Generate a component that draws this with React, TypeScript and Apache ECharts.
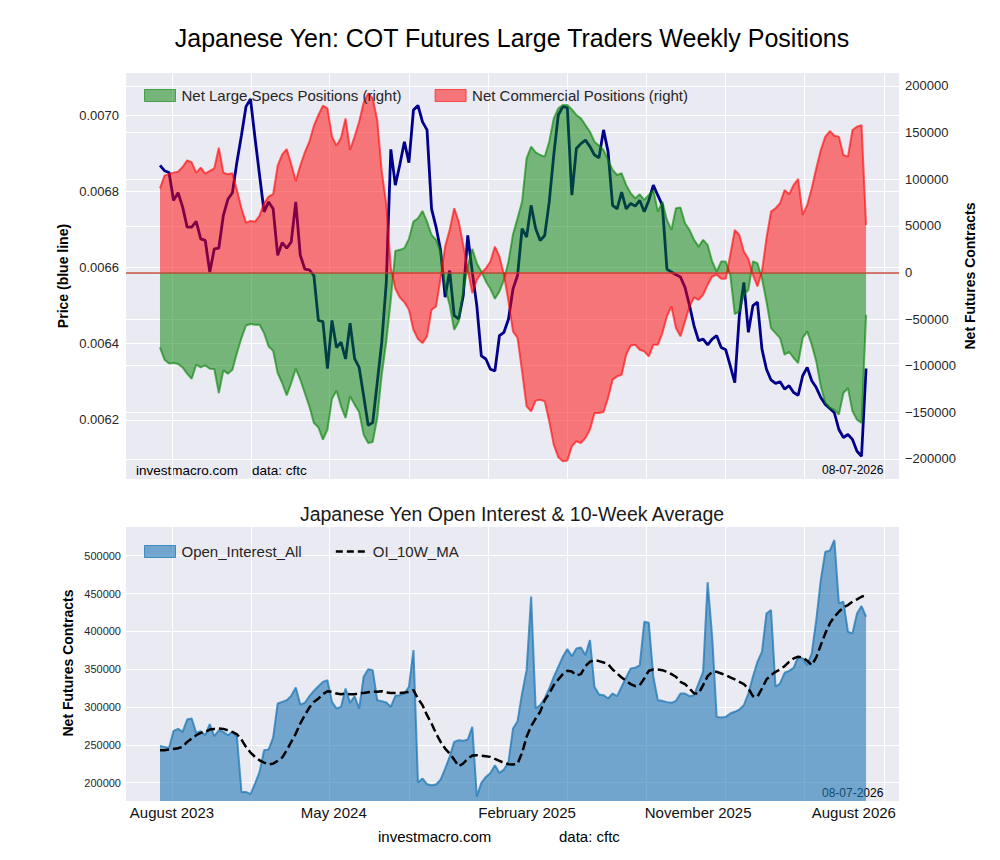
import React, { useEffect, useRef } from "react";
import * as echarts from "echarts";

const FONT = "'Liberation Sans', Arial, Helvetica, sans-serif";

// Weekly observations (index 0 = first week, Jul 2023; last = 08-07-2026)
const priceLine = [
  0.006868, 0.006854, 0.006849, 0.006776, 0.006796, 0.006759, 0.006706, 0.006706, 0.006721, 0.006675,
  0.006671, 0.006588, 0.006649, 0.006651, 0.006737, 0.006779, 0.006796, 0.006877, 0.006947, 0.007022,
  0.007042, 0.006939, 0.006842, 0.006746, 0.006772, 0.006754, 0.006632, 0.006665, 0.006651, 0.006667,
  0.006772, 0.006632, 0.006596, 0.006594, 0.006579, 0.006461, 0.006458, 0.006335, 0.006461, 0.00639,
  0.006404, 0.00636, 0.006454, 0.006361, 0.006338, 0.006263, 0.006186, 0.006193, 0.006298, 0.006404,
  0.006561, 0.00691, 0.006816, 0.00687, 0.00693, 0.006875, 0.007013, 0.007025, 0.006982, 0.006961,
  0.006754, 0.006706, 0.006645, 0.006522, 0.006592, 0.006474, 0.006465, 0.006526, 0.006684, 0.006588,
  0.0065, 0.006368, 0.00636, 0.006333, 0.006329, 0.006421, 0.00643, 0.006465, 0.006544, 0.006579,
  0.006702, 0.00668, 0.006763, 0.006702, 0.006671, 0.006684, 0.006772, 0.006895, 0.007, 0.007022,
  0.007019, 0.00679, 0.006912, 0.006925, 0.006934, 0.006917, 0.006895, 0.006888, 0.006961, 0.006904,
  0.006763, 0.006754, 0.006798, 0.006754, 0.006768, 0.006761, 0.006776, 0.006746, 0.006776, 0.006816,
  0.006789, 0.006763, 0.006596, 0.006588, 0.006581, 0.006575, 0.006548, 0.0065, 0.006447, 0.006408,
  0.006412, 0.006397, 0.006412, 0.006421, 0.00639, 0.006384, 0.006342, 0.006298, 0.006474, 0.006561,
  0.00643, 0.0065, 0.006509, 0.006386, 0.006333, 0.006305, 0.006296, 0.0063, 0.006281, 0.00629,
  0.006272, 0.006265, 0.006316, 0.006338, 0.006303, 0.006285, 0.006259, 0.006241, 0.00623, 0.006219,
  0.006175, 0.006154, 0.006162, 0.006149, 0.006118, 0.006105, 0.006335,
];

const netLargeSpecs = [
  -80300, -93500, -97500, -97100, -98200, -101700, -108500, -113900, -98900, -101700,
  -99600, -103200, -103500, -129200, -105000, -108500, -104200, -86400, -70300, -56800,
  -55300, -56000, -56000, -65000, -79300, -83900, -107800, -118500, -131700, -118500,
  -103200, -115000, -129200, -143500, -161400, -166000, -179200, -168500, -135300, -126700,
  -143500, -156000, -132800, -141700, -149600, -173900, -182800, -181700, -156000, -109600,
  -73900, -29000, 23200, 24300, 26100, 36100, 54600, 58200, 66000, 54600,
  40300, 35000, 22500, -16800, -34600, -61400, -52500, -20300, 6400, 25300,
  10000, 1100, -9600, -17500, -28200, -20300, -7900, 11800, 41100, 58200,
  76000, 122400, 134900, 128900, 126000, 124200, 140300, 165300, 176000, 179600,
  179600, 174900, 168900, 165300, 158100, 151000, 140300, 136000, 131400, 120700,
  110000, 104600, 106400, 93900, 85000, 79600, 83900, 77800, 83200, 88500,
  65300, 76000, 56400, 45700, 68900, 69600, 52800, 45700, 35000, 27800,
  35000, 29600, 11800, 1100, 11800, 11800, -2500, -44600, -41800, -23900,
  -18600, 11800, 10000, -6100, -31100, -59600, -65000, -70300, -88200, -85000,
  -91700, -97100, -70300, -63200, -77500, -95300, -122100, -139900, -145300, -147100,
  -152400, -129200, -123900, -148900, -157800, -161400, -45300,
];

const netCommercial = [
  90300, 103900, 105700, 107100, 108200, 113200, 120300, 118200, 107100, 112500,
  106000, 108900, 111700, 133900, 107100, 105300, 106400, 88500, 68900, 53500,
  55300, 54600, 61000, 74300, 81400, 83900, 114600, 126700, 132400, 116000,
  98200, 114600, 128900, 140300, 157400, 168900, 178900, 176000, 145700, 136000,
  144600, 165300, 131400, 145700, 161700, 182400, 192100, 186700, 163500, 108200,
  73000, 5000, -17500, -26800, -31800, -40000, -61400, -71400, -75700, -68500,
  -40000, -36400, -6100, 27800, 45700, 68900, 54600, 29600, 2900, -22100,
  -7900, -700, 4600, 11800, 27800, 17100, -2500, -31100, -63200, -70300,
  -106000, -143500, -148900, -137400, -136400, -138200, -159600, -184600, -198100, -202400,
  -201700, -186400, -181000, -182800, -177400, -168500, -150700, -150700, -149600, -134600,
  -114900, -111400, -109600, -88200, -78200, -77500, -82800, -84600, -90000, -77500,
  -77500, -65000, -47100, -36400, -59600, -68500, -52500, -36400, -26800, -29300,
  -23900, -13200, -4300, -2500, -6800, -6800, 18900, 45700, 40300, 22500,
  14600, -2500, -15000, 1100, 36800, 65300, 68900, 74300, 88500, 83900,
  93900, 100300, 61800, 72500, 90300, 111700, 131400, 145700, 151700, 146700,
  145700, 126000, 124200, 152800, 156400, 158100, 51000,
];

const openInterest = [
  248500, 247200, 245900, 268400, 271000, 267000, 283300, 284700, 265700, 267900,
  262600, 277200, 261300, 269200, 267000, 262600, 267000, 260400, 187700, 187700,
  184600, 198700, 214100, 242800, 243700, 259500, 304500, 306700, 308900, 314700,
  325700, 303200, 305400, 314200, 321300, 327400, 333200, 335400, 306700, 297900,
  300100, 324400, 305400, 314200, 297900, 339800, 349900, 348600, 308900, 307700,
  305900, 300200, 314700, 315600, 317800, 326700, 375200, 200000, 205300, 197800,
  196500, 197400, 204000, 218500, 234000, 253800, 256000, 255200, 256900, 273700,
  181500, 199600, 207500, 212800, 222900, 212800, 217200, 227400, 271500, 281200,
  317800, 348700, 446000, 298000, 302400, 311200, 324400, 339900, 353100, 366400,
  376500, 367200, 377400, 378700, 368600, 388400, 326700, 316500, 315600, 311200,
  317800, 314300, 326700, 339000, 350900, 351800, 355300, 412700, 411400, 339900,
  309000, 308100, 306400, 305500, 308100, 317800, 317800, 314300, 315600, 331100,
  346500, 465000, 392800, 286900, 286000, 286900, 291300, 293600, 296600, 302400,
  317800, 339900, 359700, 373000, 423700, 428200, 326700, 331100, 345200, 347800,
  351800, 366400, 364200, 355300, 370800, 414900, 467900, 505400, 506700, 520800,
  437000, 439200, 399500, 397300, 423700, 433400, 419300,
];

const oi10wMA = [
  242800, 242800, 243700, 244500, 245400, 247200, 253800, 258200, 262600, 265700,
  267000, 270100, 271000, 271400, 271000, 269200, 267000, 263900, 256900, 247200,
  239700, 234000, 229500, 226500, 223800, 225100, 228700, 233100, 242800, 253800,
  264800, 278100, 289100, 299200, 306700, 311100, 316900, 320800, 320000, 317700,
  316900, 317700, 316900, 316900, 317700, 318600, 319500, 320400, 320000, 320900,
  319100, 318600, 318600, 318600, 319100, 320000, 322200, 311200, 302400, 289100,
  278100, 264900, 253800, 245000, 238400, 230400, 221600, 225200, 231800, 235700,
  236200, 235700, 234900, 234000, 231300, 228700, 226000, 224300, 223800, 225200,
  239300, 260500, 274600, 284700, 293600, 309000, 317800, 328900, 336400, 343400,
  347800, 346900, 341700, 343400, 354000, 359800, 362000, 360600, 358900, 356700,
  349600, 344300, 338900, 334600, 330200, 327500, 328900, 337700, 347800, 349600,
  349600, 348700, 346500, 343400, 339900, 333300, 330200, 324400, 317800, 317800,
  328900, 340800, 346500, 346500, 344300, 342100, 339000, 336400, 333300, 330200,
  324400, 314300, 313400, 324400, 336400, 342100, 346500, 349600, 354000, 359700,
  364200, 366400, 365600, 361100, 355300, 365600, 381800, 397300, 410500, 419300,
  425900, 431700, 434800, 439200, 442300, 445800, 448000,
];

// x axis (week index) gridlines and labels
const xGridWeeks = [2.7, 20.1, 37.4, 55.0, 72.5, 89.9, 107.4, 125.0, 142.3, 160.0];
const xLabelWeeks = [2.65, 38.4, 81.1, 118.9, 153.3];
const xLabelTexts = ["August 2023", "May 2024", "February 2025", "November 2025", "August 2026"];
const priceTicks = [0.0062, 0.0064, 0.0066, 0.0068, 0.007];
const netTicks = [-200000, -150000, -100000, -50000, 0, 50000, 100000, 150000, 200000];
const oiTicks = [200000, 250000, 300000, 350000, 400000, 450000, 500000];
const legendTop = ["Net Large Specs Positions (right)", "Net Commercial Positions (right)"];
const legendBottom = ["Open_Interest_All", "OI_10W_MA"];

const X_MIN = -7.51;
const X_MAX = 163.28;

export default function App() {
  const ref = useRef<HTMLDivElement>(null);

  useEffect(() => {
    if (!ref.current) return;
    const chart = echarts.init(ref.current, null, { renderer: "svg" });
    const pts = (arr: number[]) => arr.map((v, i) => [i, v]);
    const tickColor = "#262626";
    const white = { show: true, lineStyle: { color: "#ffffff", width: 1 } };
    const minusFmt = (v: number) => (v < 0 ? "\u2212" + Math.abs(v) : String(v));

    const xBase = (gridIndex: number, showLabels: boolean) => ({
      type: "value",
      gridIndex,
      min: X_MIN,
      max: X_MAX,
      axisLine: { show: false },
      axisTick: { show: false, customValues: xGridWeeks },
      splitLine: white,
      axisLabel: showLabels
        ? {
            show: true,
            customValues: xLabelWeeks,
            margin: 4,
            fontSize: 15,
            color: "#111",
            fontFamily: FONT,
            formatter: (v: number) => {
              let best = 0;
              xLabelWeeks.forEach((w, k) => {
                if (Math.abs(w - v) < Math.abs(xLabelWeeks[best] - v)) best = k;
              });
              return xLabelTexts[best];
            },
          }
        : { show: false },
    });

    const text = (
      x: number,
      y: number,
      s: string,
      size: number,
      opts: any = {}
    ) => ({
      type: "text",
      x,
      y,
      rotation: opts.rotation || 0,
      silent: true,
      style: {
        text: s,
        fontSize: size,
        fontFamily: FONT,
        fontWeight: opts.bold ? "bold" : "normal",
        fill: opts.fill || "#111",
        align: opts.align || "left",
        verticalAlign: "middle",
      },
    });

    const option: any = {
      animation: false,
      backgroundColor: "#ffffff",
      grid: [
        { left: 126, top: 73, width: 773, height: 406, show: true, backgroundColor: "#EAEAF2", borderWidth: 0, containLabel: false, outerBoundsMode: "none" },
        { left: 126, top: 527, width: 773, height: 274, show: true, backgroundColor: "#EAEAF2", borderWidth: 0, containLabel: false, outerBoundsMode: "none" },
      ],
      xAxis: [xBase(0, false), xBase(1, true)],
      yAxis: [
        {
          type: "value",
          gridIndex: 0,
          position: "left",
          min: 0.0060452,
          max: 0.0071102,
          axisLine: { show: false },
          axisTick: { show: false, customValues: priceTicks },
          splitLine: white,
          axisLabel: {
            customValues: priceTicks,
            formatter: (v: number) => v.toFixed(4),
            fontSize: 13,
            color: tickColor,
            fontFamily: FONT,
            margin: 7,
          },
        },
        {
          type: "value",
          gridIndex: 0,
          position: "right",
          min: -221450,
          max: 213940,
          axisLine: { show: false },
          axisTick: { show: false, customValues: netTicks },
          splitLine: white,
          axisLabel: {
            customValues: netTicks,
            formatter: minusFmt,
            fontSize: 13,
            color: tickColor,
            fontFamily: FONT,
            margin: 6,
          },
        },
        {
          type: "value",
          gridIndex: 1,
          position: "left",
          min: 175640,
          max: 538000,
          axisLine: { show: false },
          axisTick: { show: false, customValues: oiTicks },
          splitLine: white,
          axisLabel: {
            customValues: oiTicks,
            formatter: (v: number) => String(v),
            fontSize: 11,
            color: tickColor,
            fontFamily: FONT,
            margin: 5,
          },
        },
      ],
      legend: [
        {
          left: 139,
          top: 83,
          orient: "horizontal",
          itemWidth: 31,
          itemHeight: 12,
          itemGap: 33,
          selectedMode: false,
          textStyle: { fontSize: 15, color: "#262626", fontFamily: FONT, padding: [0, 0, 0, 1] },
          data: [
            { name: legendTop[0], icon: "rect", itemStyle: { color: "rgba(0,128,0,0.5)", borderColor: "rgba(0,128,0,0.6)", borderWidth: 1 } },
            { name: legendTop[1], icon: "rect", itemStyle: { color: "rgba(255,0,0,0.5)", borderColor: "rgba(255,0,0,0.6)", borderWidth: 1 } },
          ],
        },
        {
          left: 139,
          top: 539,
          orient: "horizontal",
          itemWidth: 31,
          itemHeight: 12,
          itemGap: 33,
          selectedMode: false,
          textStyle: { fontSize: 15, color: "#262626", fontFamily: FONT, padding: [0, 0, 0, 1] },
          data: [
            { name: legendBottom[0], icon: "rect", itemStyle: { color: "rgba(31,119,180,0.6)", borderColor: "rgba(31,119,180,0.75)", borderWidth: 1 } },
            {
              name: legendBottom[1],
              itemStyle: { color: "rgba(0,0,0,0)", borderWidth: 0, borderColor: "rgba(0,0,0,0)" },
              lineStyle: { color: "#000000", width: 2.5, type: [7, 4] },
            },
          ],
        },
      ],
      series: [
        {
          name: "Price",
          type: "line",
          xAxisIndex: 0,
          yAxisIndex: 0,
          data: pts(priceLine),
          symbol: "none",
          showSymbol: false,
          lineStyle: { color: "#00008B", width: 2.8 },
          itemStyle: { color: "#00008B" },
          z: 1,
        },
        {
          name: legendTop[0],
          type: "line",
          xAxisIndex: 0,
          yAxisIndex: 1,
          data: pts(netLargeSpecs),
          symbol: "none",
          showSymbol: false,
          lineStyle: { color: "rgba(0,128,0,0.6)", width: 2 },
          itemStyle: { color: "rgba(0,128,0,0.5)" },
          areaStyle: { color: "rgba(0,128,0,0.5)", opacity: 1, origin: 0 },
          z: 2,
        },
        {
          name: legendTop[1],
          type: "line",
          xAxisIndex: 0,
          yAxisIndex: 1,
          data: pts(netCommercial),
          symbol: "none",
          showSymbol: false,
          lineStyle: { color: "rgba(255,0,0,0.6)", width: 2 },
          itemStyle: { color: "rgba(255,0,0,0.5)" },
          areaStyle: { color: "rgba(255,0,0,0.5)", opacity: 1, origin: 0 },
          markLine: {
            silent: true,
            symbol: "none",
            label: { show: false },
            lineStyle: { color: "rgba(190,60,40,0.9)", width: 1.5, type: "solid" },
            data: [{ yAxis: 0 }],
          },
          z: 3,
        },
        {
          name: legendBottom[0],
          type: "line",
          xAxisIndex: 1,
          yAxisIndex: 2,
          data: pts(openInterest),
          symbol: "none",
          showSymbol: false,
          lineStyle: { color: "rgba(31,119,180,0.75)", width: 2 },
          itemStyle: { color: "rgba(31,119,180,0.6)" },
          areaStyle: { color: "rgba(31,119,180,0.6)", opacity: 1, origin: "start" },
          z: 2,
        },
        {
          name: legendBottom[1],
          type: "line",
          xAxisIndex: 1,
          yAxisIndex: 2,
          data: pts(oi10wMA),
          symbol: "none",
          showSymbol: false,
          lineStyle: { color: "#000000", width: 2.5, type: [9, 4] },
          itemStyle: { color: "#000000" },
          z: 4,
        },
      ],
      graphic: [
        text(512, 38, "Japanese Yen: COT Futures Large Traders Weekly Positions", 25, { align: "center", fill: "#000" }),
        text(512, 514, "Japanese Yen Open Interest & 10-Week Average", 19.5, { align: "center", fill: "#1a1a1a" }),
        text(63, 276, "Price (blue line)", 14, { bold: true, align: "center", rotation: Math.PI / 2, fill: "#000" }),
        text(970, 276, "Net Futures Contracts", 14, { bold: true, align: "center", rotation: Math.PI / 2, fill: "#000" }),
        text(68, 663, "Net Futures Contracts", 14, { bold: true, align: "center", rotation: Math.PI / 2, fill: "#000" }),
        text(136, 470, "investmacro.com", 13.5, { fill: "#000" }),
        text(252, 470, "data: cftc", 13.5, { fill: "#000" }),
        text(822, 470, "08-07-2026", 12, { fill: "#000" }),
        text(822, 793, "08-07-2026", 12, { fill: "#000" }),
        text(378, 836, "investmacro.com", 15, { fill: "#000" }),
        text(559, 836, "data: cftc", 15, { fill: "#000" }),
      ],
    };

    chart.setOption(option);
    return () => chart.dispose();
  }, []);

  return (
    <div
      ref={ref}
      style={{ position: "absolute", left: 0, top: 0, width: 1000, height: 860 }}
    />
  );
}
